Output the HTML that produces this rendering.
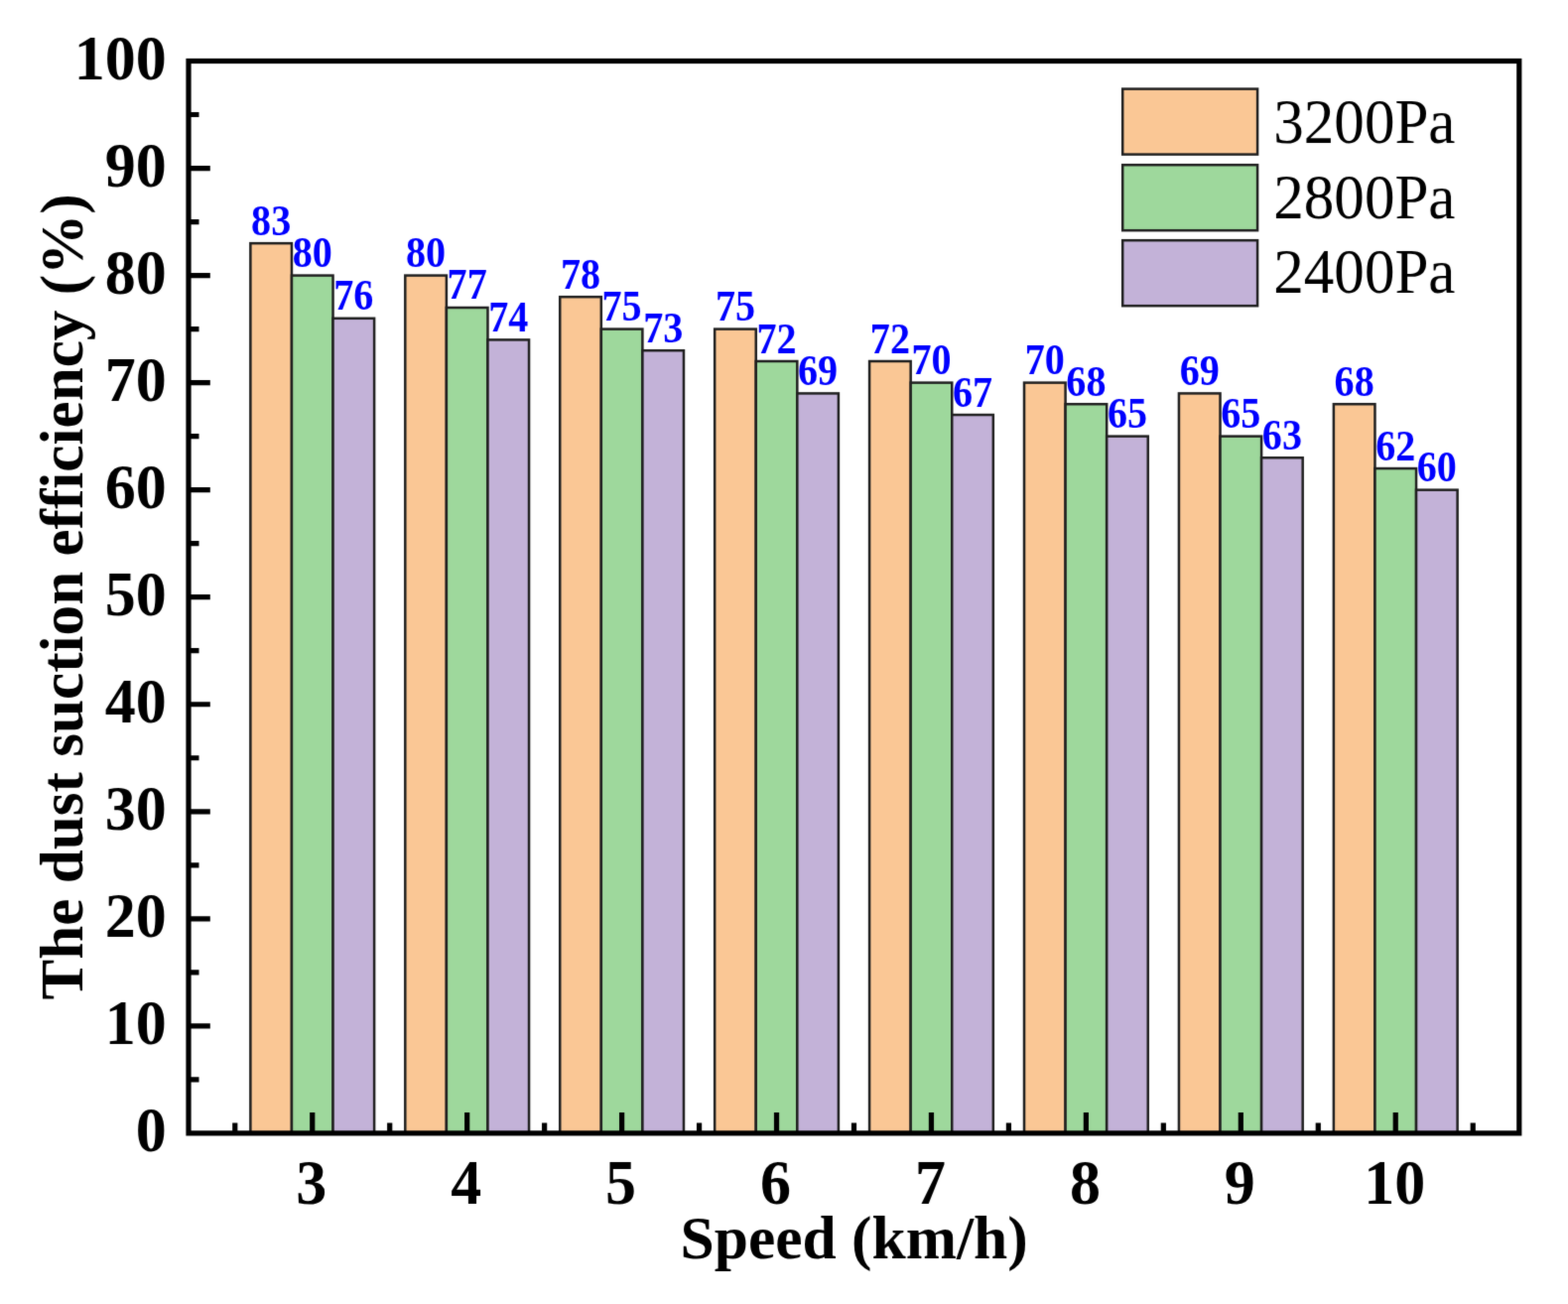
<!DOCTYPE html><html><head><meta charset="utf-8"><title>Dust suction efficiency vs speed</title><style>html,body{margin:0;padding:0;background:#fff;width:1580px;height:1314px;overflow:hidden;}svg{display:block;}text{font-family:"Liberation Serif","Times New Roman",serif;}</style></head><body>
<svg width="1580" height="1314" viewBox="0 0 1580 1314">
<defs><filter id="sf" x="0" y="0" width="1580" height="1314" filterUnits="userSpaceOnUse" primitiveUnits="userSpaceOnUse" color-interpolation-filters="sRGB"><feConvolveMatrix order="3" kernelMatrix="0.01134 0.08382 0.01134 0.08382 0.61935 0.08382 0.01134 0.08382 0.01134" edgeMode="duplicate"/></filter></defs>
<g filter="url(#sf)">
<rect x="0" y="0" width="1580" height="1314" fill="#fff"/>
<g stroke="#202020" stroke-width="2.5">
<rect x="252.37" y="245.17" width="41.58" height="896.73" fill="#FAC795"/>
<rect x="293.95" y="277.58" width="41.58" height="864.32" fill="#9ED89C"/>
<rect x="335.53" y="320.80" width="41.58" height="821.10" fill="#C3B2D8"/>
<rect x="408.30" y="277.58" width="41.58" height="864.32" fill="#FAC795"/>
<rect x="449.88" y="309.99" width="41.58" height="831.91" fill="#9ED89C"/>
<rect x="491.46" y="342.40" width="41.58" height="799.50" fill="#C3B2D8"/>
<rect x="564.23" y="299.19" width="41.58" height="842.71" fill="#FAC795"/>
<rect x="605.81" y="331.60" width="41.58" height="810.30" fill="#9ED89C"/>
<rect x="647.39" y="353.21" width="41.58" height="788.69" fill="#C3B2D8"/>
<rect x="720.16" y="331.60" width="41.58" height="810.30" fill="#FAC795"/>
<rect x="761.74" y="364.01" width="41.58" height="777.89" fill="#9ED89C"/>
<rect x="803.32" y="396.42" width="41.58" height="745.48" fill="#C3B2D8"/>
<rect x="876.09" y="364.01" width="41.58" height="777.89" fill="#FAC795"/>
<rect x="917.67" y="385.62" width="41.58" height="756.28" fill="#9ED89C"/>
<rect x="959.25" y="418.03" width="41.58" height="723.87" fill="#C3B2D8"/>
<rect x="1032.02" y="385.62" width="41.58" height="756.28" fill="#FAC795"/>
<rect x="1073.60" y="407.23" width="41.58" height="734.67" fill="#9ED89C"/>
<rect x="1115.18" y="439.64" width="41.58" height="702.26" fill="#C3B2D8"/>
<rect x="1187.95" y="396.42" width="41.58" height="745.48" fill="#FAC795"/>
<rect x="1229.53" y="439.64" width="41.58" height="702.26" fill="#9ED89C"/>
<rect x="1271.11" y="461.25" width="41.58" height="680.65" fill="#C3B2D8"/>
<rect x="1343.88" y="407.23" width="41.58" height="734.67" fill="#FAC795"/>
<rect x="1385.46" y="472.05" width="41.58" height="669.85" fill="#9ED89C"/>
<rect x="1427.04" y="493.66" width="41.58" height="648.24" fill="#C3B2D8"/>
</g>
<g font-size="42" font-weight="bold" fill="#0000FF" text-anchor="middle">
<text transform="translate(273.16,236.67) scale(0.955,1.075)">83</text>
<text transform="translate(314.74,269.08) scale(0.955,1.075)">80</text>
<text transform="translate(356.32,312.30) scale(0.955,1.075)">76</text>
<text transform="translate(429.09,269.08) scale(0.955,1.075)">80</text>
<text transform="translate(470.67,301.49) scale(0.955,1.075)">77</text>
<text transform="translate(512.25,333.90) scale(0.955,1.075)">74</text>
<text transform="translate(585.02,290.69) scale(0.955,1.075)">78</text>
<text transform="translate(626.60,323.10) scale(0.955,1.075)">75</text>
<text transform="translate(668.18,344.71) scale(0.955,1.075)">73</text>
<text transform="translate(740.95,323.10) scale(0.955,1.075)">75</text>
<text transform="translate(782.53,355.51) scale(0.955,1.075)">72</text>
<text transform="translate(824.11,387.92) scale(0.955,1.075)">69</text>
<text transform="translate(896.88,355.51) scale(0.955,1.075)">72</text>
<text transform="translate(938.46,377.12) scale(0.955,1.075)">70</text>
<text transform="translate(980.04,409.53) scale(0.955,1.075)">67</text>
<text transform="translate(1052.81,377.12) scale(0.955,1.075)">70</text>
<text transform="translate(1094.39,398.73) scale(0.955,1.075)">68</text>
<text transform="translate(1135.97,431.14) scale(0.955,1.075)">65</text>
<text transform="translate(1208.74,387.92) scale(0.955,1.075)">69</text>
<text transform="translate(1250.32,431.14) scale(0.955,1.075)">65</text>
<text transform="translate(1291.90,452.75) scale(0.955,1.075)">63</text>
<text transform="translate(1364.67,398.73) scale(0.955,1.075)">68</text>
<text transform="translate(1406.25,463.55) scale(0.955,1.075)">62</text>
<text transform="translate(1447.83,485.16) scale(0.955,1.075)">60</text>
</g>
<rect x="190.0" y="61.5" width="1340.80" height="1080.40" fill="none" stroke="#000" stroke-width="5.2"/>
<path d="M190.00 1087.88H200.50 M190.00 1033.86H211.80 M190.00 979.84H200.50 M190.00 925.82H211.80 M190.00 871.80H200.50 M190.00 817.78H211.80 M190.00 763.76H200.50 M190.00 709.74H211.80 M190.00 655.72H200.50 M190.00 601.70H211.80 M190.00 547.68H200.50 M190.00 493.66H211.80 M190.00 439.64H200.50 M190.00 385.62H211.80 M190.00 331.60H200.50 M190.00 277.58H211.80 M190.00 223.56H200.50 M190.00 169.54H211.80 M190.00 115.52H200.50 M236.78 1141.90V1131.40 M314.74 1141.90V1120.90 M392.71 1141.90V1131.40 M470.67 1141.90V1120.90 M548.63 1141.90V1131.40 M626.60 1141.90V1120.90 M704.57 1141.90V1131.40 M782.53 1141.90V1120.90 M860.50 1141.90V1131.40 M938.46 1141.90V1120.90 M1016.43 1141.90V1131.40 M1094.39 1141.90V1120.90 M1172.36 1141.90V1131.40 M1250.32 1141.90V1120.90 M1328.29 1141.90V1131.40 M1406.25 1141.90V1120.90 M1484.22 1141.90V1131.40" stroke="#000" stroke-width="5.2" fill="none"/>
<g font-size="62" font-weight="bold" fill="#000">
<text transform="translate(167.80,1160.10) scale(1.0,1.03)" text-anchor="end">0</text>
<text transform="translate(167.80,1052.06) scale(1.0,1.03)" text-anchor="end">10</text>
<text transform="translate(167.80,944.02) scale(1.0,1.03)" text-anchor="end">20</text>
<text transform="translate(167.80,835.98) scale(1.0,1.03)" text-anchor="end">30</text>
<text transform="translate(167.80,727.94) scale(1.0,1.03)" text-anchor="end">40</text>
<text transform="translate(167.80,619.90) scale(1.0,1.03)" text-anchor="end">50</text>
<text transform="translate(167.80,511.86) scale(1.0,1.03)" text-anchor="end">60</text>
<text transform="translate(167.80,403.82) scale(1.0,1.03)" text-anchor="end">70</text>
<text transform="translate(167.80,295.78) scale(1.0,1.03)" text-anchor="end">80</text>
<text transform="translate(167.80,187.74) scale(1.0,1.03)" text-anchor="end">90</text>
<text transform="translate(167.80,79.70) scale(1.0,1.03)" text-anchor="end">100</text>
<text transform="translate(313.74,1212.70) scale(1.0,1.03)" text-anchor="middle">3</text>
<text transform="translate(469.67,1212.70) scale(1.0,1.03)" text-anchor="middle">4</text>
<text transform="translate(625.60,1212.70) scale(1.0,1.03)" text-anchor="middle">5</text>
<text transform="translate(781.53,1212.70) scale(1.0,1.03)" text-anchor="middle">6</text>
<text transform="translate(937.46,1212.70) scale(1.0,1.03)" text-anchor="middle">7</text>
<text transform="translate(1093.39,1212.70) scale(1.0,1.03)" text-anchor="middle">8</text>
<text transform="translate(1249.32,1212.70) scale(1.0,1.03)" text-anchor="middle">9</text>
<text transform="translate(1405.25,1212.70) scale(1.0,1.03)" text-anchor="middle">10</text>
</g>
<text transform="translate(860.60,1268.30) scale(0.984,0.975)" font-size="62.5" font-weight="bold" text-anchor="middle">Speed (km/h)</text>
<text transform="translate(82.8,601.5) rotate(-90) scale(0.979,0.975)" font-size="62.5" font-weight="bold" text-anchor="middle">The dust suction efficiency (%)</text>
<rect x="1131.2" y="89.6" width="135.9" height="66" fill="#FAC795" stroke="#202020" stroke-width="2.5"/>
<text transform="translate(1283.30,144.00) scale(0.985,1.04)" font-size="62">3200Pa</text>
<rect x="1131.2" y="166.2" width="135.9" height="66" fill="#9ED89C" stroke="#202020" stroke-width="2.5"/>
<text transform="translate(1283.30,220.10) scale(0.985,1.04)" font-size="62">2800Pa</text>
<rect x="1131.2" y="242.2" width="135.9" height="66" fill="#C3B2D8" stroke="#202020" stroke-width="2.5"/>
<text transform="translate(1283.30,295.40) scale(0.985,1.04)" font-size="62">2400Pa</text>
</g>
</svg></body></html>
